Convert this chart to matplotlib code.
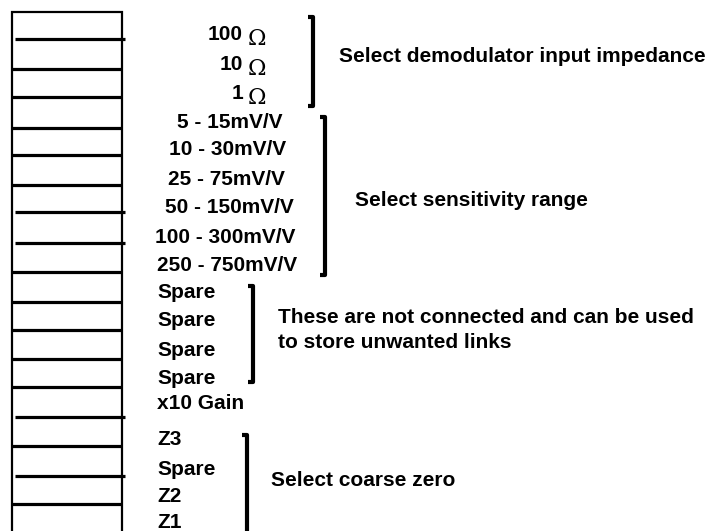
#LINK BLOCK DIAGRAM - demodulator link positions

import matplotlib.pyplot as plt

# slot divider rows (pixel y) and whether the line is nudged to the right
slot_y = [39, 69, 97, 128, 155, 185, 212, 243, 272, 302, 330, 359, 387, 417, 446, 476, 504]
slot_shift = [1, 0, 0, 0, 0, 0, 1, 1, 0, 0, 0, 0, 0, 1, 0, 1, 0]

# impedance links (number + ohm sign)
ohm_vals = ['100', '10', '1']
ohm_y = [40, 70, 99]

# sensitivity ranges, centred
range_labels = ['5 - 15mV/V', '10 - 30mV/V', '25 - 75mV/V', '50 - 150mV/V',
                '100 - 300mV/V', '250 - 750mV/V']
range_y = [128, 155, 185, 213, 243, 271]
range_x = [230, 228, 226, 229, 225, 227]

# lower links, left aligned
low_labels = ['Spare', 'Spare', 'Spare', 'Spare', 'x10 Gain', 'Z3', 'Spare', 'Z2', 'Z1']
low_y = [298, 326, 356, 384, 409, 445, 475, 502, 528]

# brackets: x, top, bottom, note text, note x, note y
brackets = [
    (313, 17, 106, 'Select demodulator input impedance', 339, 57),
    (325, 117, 275, 'Select sensitivity range', 355, 200),
    (253, 286, 382, 'These are not connected and can be used\nto store unwanted links', 278, 330),
    (247, 435, 534, 'Select coarse zero', 271, 480),
]

fig = plt.figure(figsize=(7.13, 5.31), dpi=100)
ax = fig.add_axes([0, 0, 1, 1])
ax.set_xlim(0, 713)
ax.set_ylim(531, 0)
ax.axis('off')

font = 'Liberation Sans'
fs = 15

# the link block outline
ax.plot([12, 12, 122, 122], [540, 12, 12, 540], color='black', lw=1.6,
        solid_joinstyle='miter')
for y, s in zip(slot_y, slot_shift):
    x0 = 15 if s else 12
    ax.plot([x0, x0 + 110], [y, y], color='black', lw=2.3, solid_capstyle='butt')

# labels
for v, y in zip(ohm_vals, ohm_y):
    ax.text(243, y, v, ha='right', va='baseline', fontsize=fs, fontweight='bold',
            family=font)
    ax.text(248, y + 5, '\u03a9', ha='left', va='baseline', fontsize=16,
            family='DejaVu Serif')

for t, x, y in zip(range_labels, range_x, range_y):
    ax.text(x, y, t, ha='center', va='baseline', fontsize=fs, fontweight='bold',
            family=font)

for t, y in zip(low_labels, low_y):
    ax.text(157, y, t, ha='left', va='baseline', fontsize=fs, fontweight='bold',
            family=font)

# brackets and notes
for x, top, bot, note, nx, ny in brackets:
    ax.plot([x - 5, x, x, x - 5], [top, top, bot, bot], color='black', lw=3,
            solid_joinstyle='round', solid_capstyle='butt')
    ax.text(nx, ny, note, ha='left', va='center', fontsize=fs, fontweight='bold',
            family=font, linespacing=1.35)

plt.savefig('out.png', dpi=100)
